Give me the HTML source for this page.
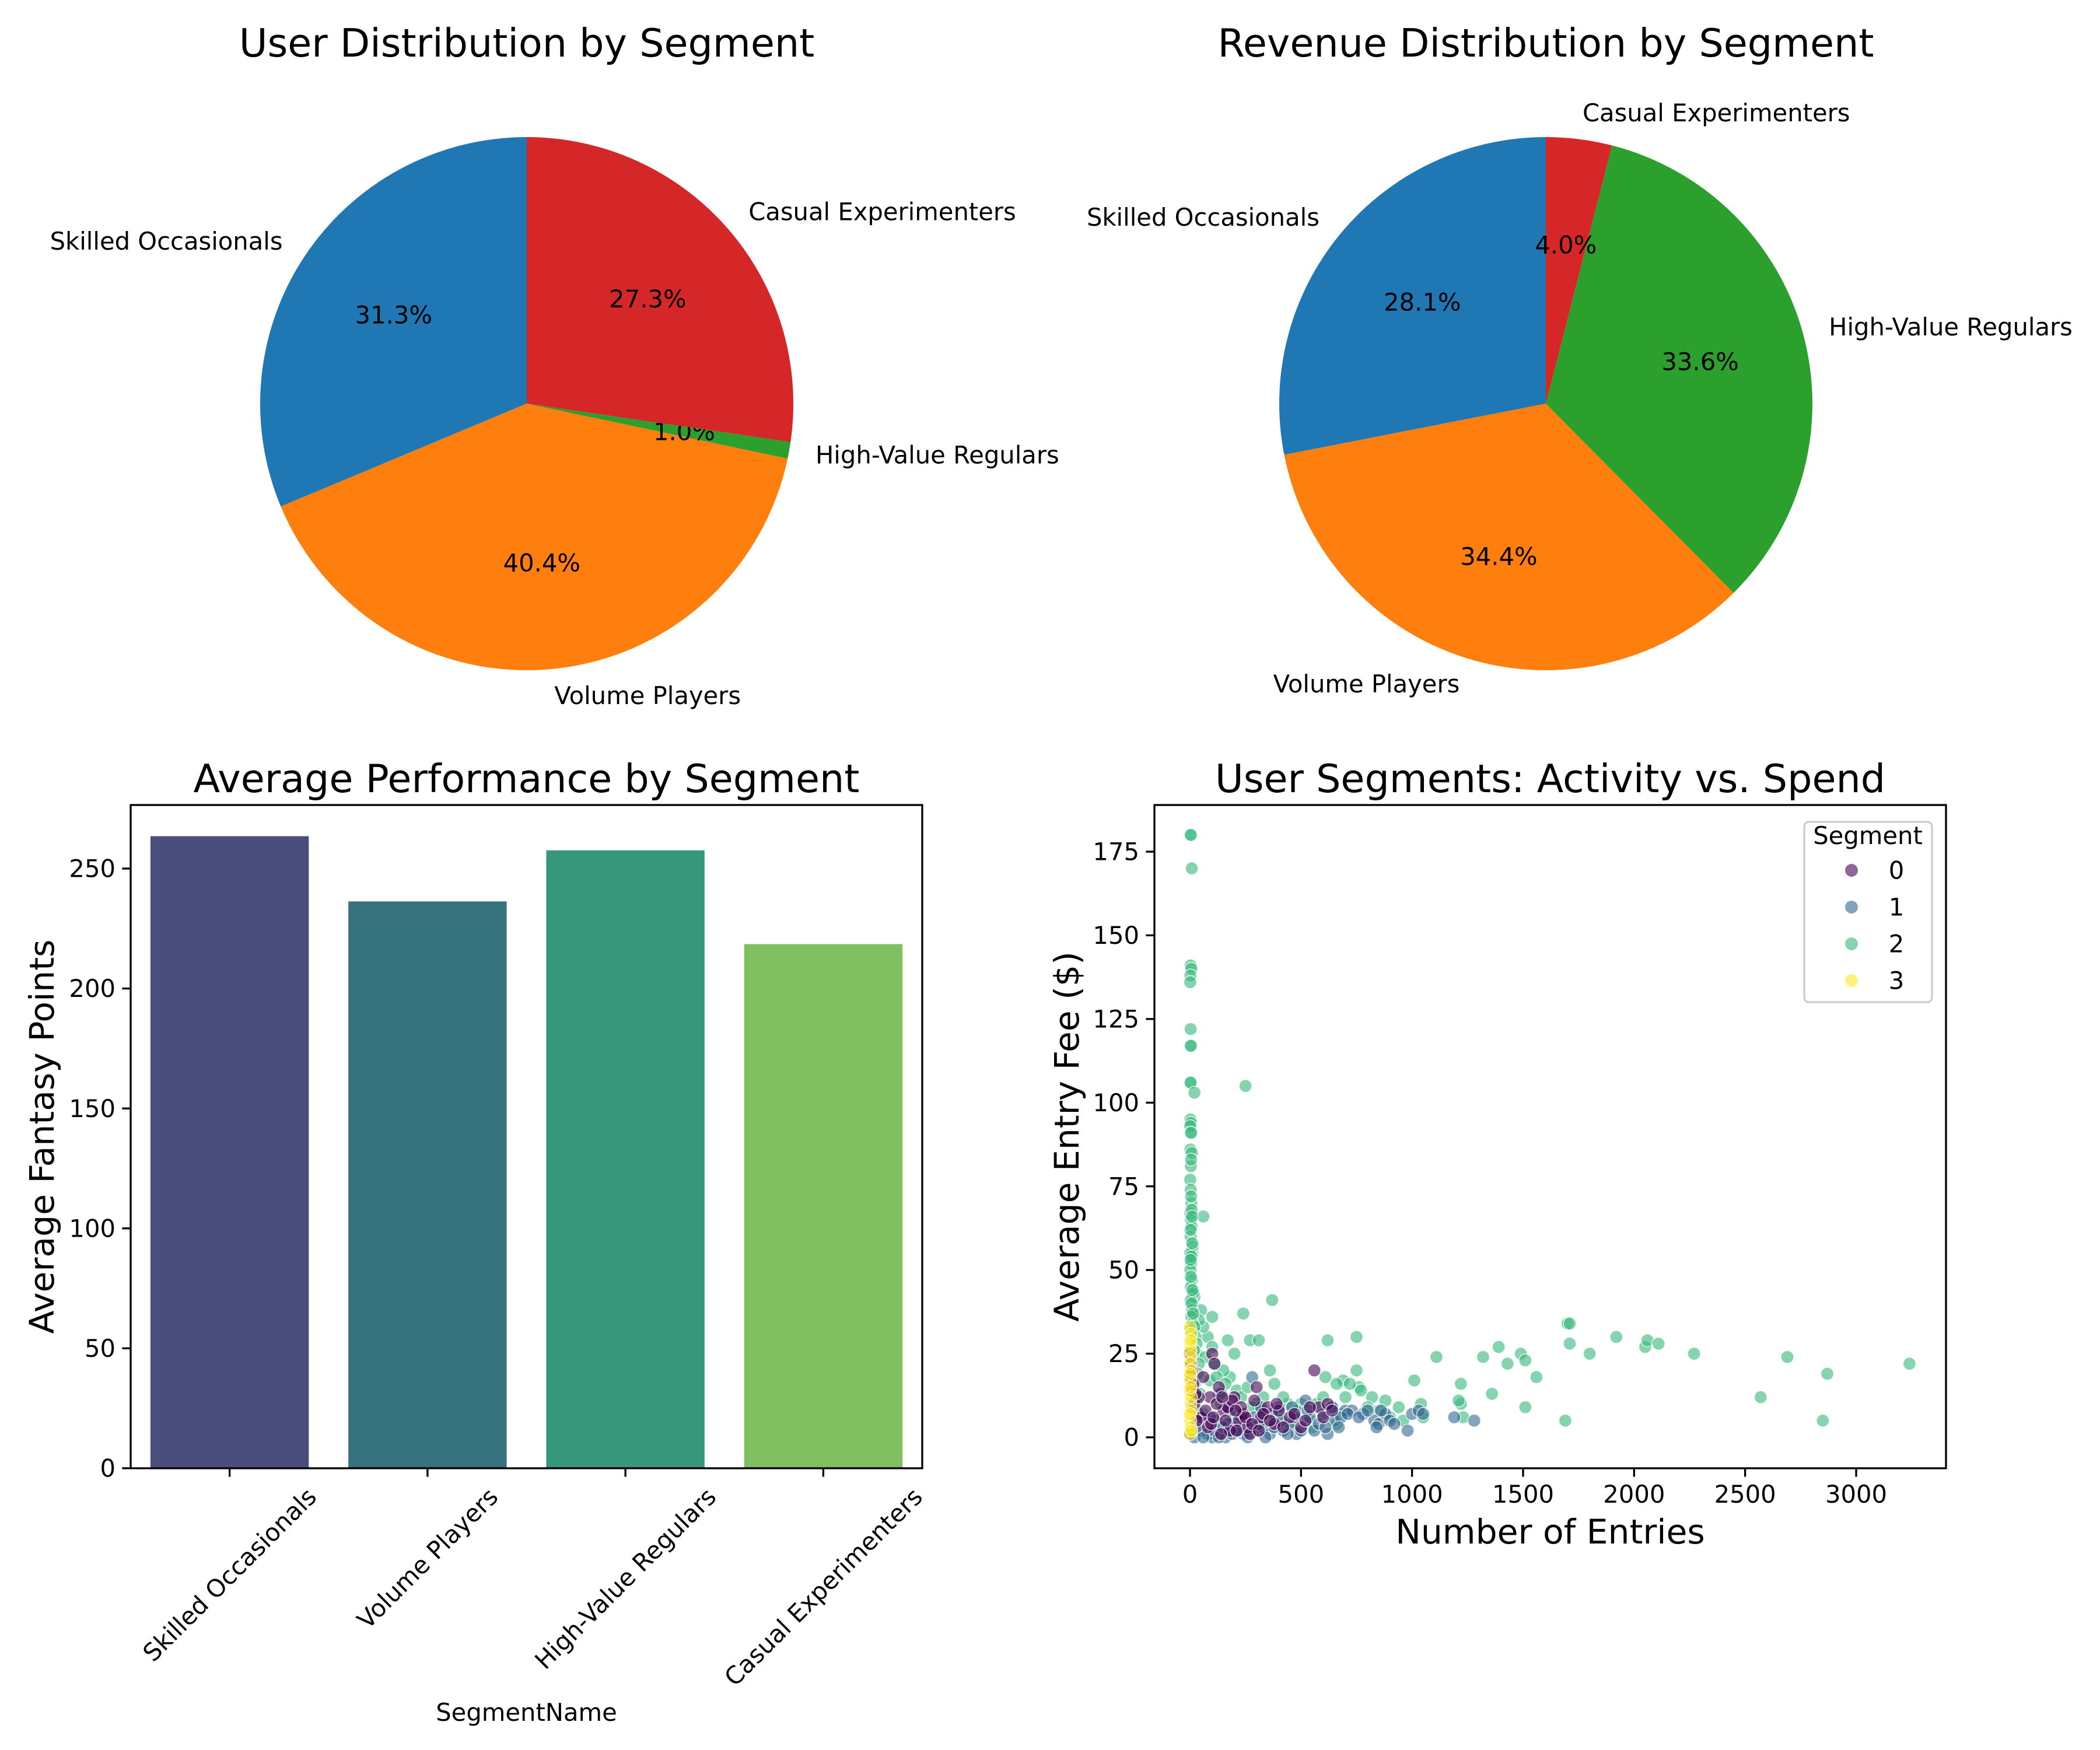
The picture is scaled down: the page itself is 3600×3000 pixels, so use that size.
<!DOCTYPE html>
<html><head><meta charset="utf-8"><style>
html,body{margin:0;padding:0;background:#fff;}
svg{display:block;font-family:"DejaVu Sans","Liberation Sans",sans-serif;}
</style></head><body>
<svg id="fig" width="3600" height="3000" viewBox="0 0 3600 3000" xmlns="http://www.w3.org/2000/svg">
<rect width="3600" height="3000" fill="#fff"/>
<g id="pies"></g><g id="bars"></g><g id="scatter"></g>
</svg>
<script>
const pieLabels = ["Skilled Occasionals","Volume Players","High-Value Regulars","Casual Experimenters"];
const userShare = [31.3, 40.4, 1.0, 27.3];
const revenueShare = [28.1, 34.4, 33.6, 4.0];
const barCategories = ["Skilled Occasionals","Volume Players","High-Value Regulars","Casual Experimenters"];
const barValues = [263.5, 236.3, 257.6, 218.5];
const barTicks = [0, 50, 100, 150, 200, 250];
const scatterXTicks = [0, 500, 1000, 1500, 2000, 2500, 3000];
const scatterYTicks = [0, 25, 50, 75, 100, 125, 150, 175];
const segGreenNearZero = [[2,180],[4,180],[8,170],[3,141],[6,140],[2,138],[1,136],[3,122],[2,117],[4,117],[1,106],[3,106],[20,103],[2,95],[4,94],[1,93],[3,91],[5,91],[2,86],[4,81],[1,77],[3,74],[6,70],[2,67],[4,65],[7,63],[3,60],[12,57],[1,55],[5,52],[2,50],[8,47],[4,45],[15,43],[3,41],[9,38],[6,36],[12,34],[2,32],[5,72],[8,68],[3,62],[10,58],[6,54],[4,48],[11,44],[7,40],[14,37],[20,33],[25,30],[30,28],[18,26],[40,22],[35,19],[22,16],[45,13],[28,11],[15,9],[60,7],[8,85],[5,83],[9,66],[3,53]];
const segGreenOther = [[250,105],[60,66],[370,41],[240,37],[100,36],[170,29],[270,29],[310,29],[620,29],[750,30],[1110,24],[1220,16],[1320,24],[1390,27],[1430,22],[1490,25],[1510,23],[1560,18],[1700,34],[1710,34],[1710,28],[1800,25],[1920,30],[2050,27],[2060,29],[2110,28],[2270,25],[2570,12],[2690,24],[2850,5],[2870,19],[3240,22],[1690,5],[1510,9],[1360,13],[1220,10],[1210,11],[1010,17],[940,9],[880,11],[820,12],[760,15],[750,20],[690,17],[660,16],[610,18],[570,10],[500,10],[440,10],[380,16],[360,20],[330,12],[300,10],[200,25],[180,18],[150,20],[130,13],[110,22],[80,30],[60,33],[50,38],[40,35],[20,42],[10,55],[30,25],[90,17],[1040,10],[1230,6],[660,4],[450,4],[700,12],[120,18],[160,16],[210,14],[230,12],[280,9],[320,8],[400,7],[480,8],[530,6],[600,12],[640,9],[720,16],[770,14],[800,9],[850,8],[900,6],[960,5],[1050,6],[70,24],[100,27],[140,10],[190,6],[260,15],[350,5],[420,12],[550,3],[680,7]];
const segYellow = [[0,33],[5,31],[2,28],[3,24],[0,22],[4,20],[1,17],[0,14],[2,10],[6,8],[1,5],[3,3],[0,1],[5,12],[2,26],[4,29],[1,19],[3,15],[0,7],[6,2]];
const segPurple = [[0,25],[5,22],[3,18],[10,14],[20,10],[50,6],[80,3],[100,25],[110,22],[130,15],[150,8],[180,2],[200,12],[220,5],[240,7],[260,3],[300,15],[320,6],[350,9],[380,4],[400,8],[450,6],[500,3],[560,20],[580,9],[620,10],[140,1],[90,12],[60,18],[30,5],[170,9],[270,1],[15,16],[40,12],[70,8],[95,4],[120,10],[160,5],[190,11],[210,2],[230,9],[250,6],[280,4],[310,2],[330,7],[360,5],[390,10],[420,3],[470,7],[520,5],[540,9],[600,6],[640,8],[105,6],[145,12],[205,8],[290,11],[10,20],[25,13]];
const segBlue = [[0,1],[20,0],[50,2],[80,1],[120,5],[140,13],[160,0],[200,3],[240,1],[280,18],[300,2],[330,3],[360,1],[400,9],[420,2],[450,4],[480,1],[520,11],[540,6],[560,2],[600,7],[620,1],[650,5],[700,8],[730,8],[780,7],[830,5],[850,4],[880,7],[980,2],[1000,7],[1030,8],[1050,7],[1190,6],[1280,5],[250,5],[370,7],[680,6],[900,5],[100,0],[180,8],[10,9],[30,3],[60,0],[90,6],[110,2],[130,0],[170,4],[190,1],[220,2],[260,0],[290,6],[310,4],[340,0],[380,3],[410,5],[440,1],[470,6],[500,2],[530,8],[580,4],[610,3],[640,9],[670,3],[710,7],[760,6],[800,8],[840,3],[860,8],[920,4],[40,7],[150,3],[230,6],[320,9],[460,9]];

const NS="http://www.w3.org/2000/svg";
function mk(parent, tag, attrs, text){
  const e=document.createElementNS(NS,tag);
  for(const k in attrs) e.setAttribute(k,attrs[k]);
  if(text!==undefined) e.textContent=text;
  parent.appendChild(e); return e;
}
const tab=["#1f77b4","#ff7f0e","#2ca02c","#d62728"];
const FS=41.7;

// ---- PIES ----
function drawPie(g, cx, cy, r, vals, title, tx){
  const t=mk(g,'text',{x:tx,y:97,'text-anchor':'middle','font-size':66.7,fill:'#000'},title);
  
  
  const total=vals.reduce((a,b)=>a+b,0);
  let a0=90;
  vals.forEach((v,i)=>{
    const sweep=v/total*360, a1=a0+sweep;
    const r0=a0*Math.PI/180, r1=a1*Math.PI/180;
    const x0=cx+r*Math.cos(r0), y0=cy-r*Math.sin(r0), x1=cx+r*Math.cos(r1), y1=cy-r*Math.sin(r1);
    const p=mk(g,'path',{d:`M${cx},${cy} L${x0},${y0} A${r},${r} 0 ${sweep>180?1:0} 0 ${x1},${y1} Z`,fill:tab[i]});
    
    
    const m=(a0+sweep/2)*Math.PI/180, c=Math.cos(m), s=Math.sin(m);
    const lb=mk(g,'text',{x:cx+1.1*r*c,y:cy-1.1*r*s+FS*0.35,'text-anchor':c>=0?'start':'end','font-size':FS},pieLabels[i]);
    
    
    const pc=mk(g,'text',{x:cx+0.6*r*c,y:cy-0.6*r*s+FS*0.35,'text-anchor':'middle','font-size':FS},v.toFixed(1)+'%');
    
    
    a0=a1;
  });
}
drawPie(document.getElementById('pies'),903,692,457,userShare,"User Distribution by Segment",903);
drawPie(document.getElementById('pies'),2650,692,457,revenueShare,"Revenue Distribution by Segment",2650);

// ---- BARS ----
(function(){
  const g=document.getElementById('bars');
  const L=224,R=1581,T=1380,B=2517, ymax=276.5;
  const ys=v=>B-(v/ymax)*(B-T);
  const n=barCategories.length, step=(R-L)/n;
  const xs=i=>L+step*(i+0.5);
  const cols=["#4a4e7c","#37727f","#36977a","#80c060"];
  barValues.forEach((v,i)=>{
    const b=mk(g,'rect',{x:xs(i)-step*0.4,y:ys(v),width:step*0.8,height:B-ys(v),fill:cols[i]});
    
    
  });
  barTicks.forEach(t=>{
    mk(g,'line',{x1:L-14.6,x2:L,y1:ys(t),y2:ys(t),stroke:'#000','stroke-width':3.3});
    const tl=mk(g,'text',{x:L-26,y:ys(t)+FS*0.35,'text-anchor':'end','font-size':FS},String(t));
    
    
  });
  barCategories.forEach((c,i)=>{
    mk(g,'line',{x1:xs(i),x2:xs(i),y1:B,y2:B+14.6,stroke:'#000','stroke-width':3.3});
    const tl=mk(g,'text',{'text-anchor':'middle','font-size':FS},c);
    
    
    const w=tl.getComputedTextLength();
    const cxp=xs(i), cyp=B+14.6+12+(w*0.707+FS*0.707)/2;
    tl.setAttribute('x',cxp); tl.setAttribute('y',cyp+FS*0.35);
    tl.setAttribute('transform',`rotate(-45 ${cxp} ${cyp})`);
  });
  const fr=mk(g,'rect',{x:L,y:T,width:R-L,height:B-T,fill:'none',stroke:'#000','stroke-width':3.3});
  
  
  const t=mk(g,'text',{x:(L+R)/2,y:1358,'text-anchor':'middle','font-size':66.7},"Average Performance by Segment");
  
  
  const yl=mk(g,'text',{x:0,y:0,'text-anchor':'middle','font-size':58.3,transform:`translate(92 ${(T+B)/2}) rotate(-90)`},"Average Fantasy Points");
  
  
  const xl=mk(g,'text',{x:(L+R)/2,y:2950,'text-anchor':'middle','font-size':FS},"SegmentName");
  
  
})();

// ---- SCATTER ----
(function(){
  const g=document.getElementById('scatter');
  const L=1979,R=3336,T=1380,B=2517;
  const x0px=2040, xpx=(3182-2040)/3000, y0px=2464, ypx=(2464-1460)/175;
  const xs=v=>x0px+v*xpx;
  const ys=v=>y0px-v*ypx;
  const segCol=["#440154","#31688e","#35b779","#fde725"];
  const groups=[[segGreenOther,2],[segGreenNearZero,2],[segBlue,1],[segPurple,0],[segYellow,3]];
  groups.forEach(([arr,s])=>{
    arr.forEach(p=>{
      const c=mk(g,'circle',{cx:xs(p[0]),cy:ys(p[1]),r:11,fill:segCol[s],'fill-opacity':0.6,stroke:'#fff','stroke-width':1.5,'stroke-opacity':0.8});
      
      
    });
  });
  scatterXTicks.forEach(t=>{
    mk(g,'line',{x1:xs(t),x2:xs(t),y1:B,y2:B+14.6,stroke:'#000','stroke-width':3.3});
    const tl=mk(g,'text',{x:xs(t),y:B+14.6+12+FS*0.78,'text-anchor':'middle','font-size':FS},String(t));
    
    
  });
  scatterYTicks.forEach(t=>{
    mk(g,'line',{x1:L-14.6,x2:L,y1:ys(t),y2:ys(t),stroke:'#000','stroke-width':3.3});
    const tl=mk(g,'text',{x:L-26,y:ys(t)+FS*0.35,'text-anchor':'end','font-size':FS},String(t));
    
    
  });
  const fr=mk(g,'rect',{x:L,y:T,width:R-L,height:B-T,fill:'none',stroke:'#000','stroke-width':3.3});
  
  
  const t=mk(g,'text',{x:(L+R)/2,y:1358,'text-anchor':'middle','font-size':66.7},"User Segments: Activity vs. Spend");
  
  
  const yl=mk(g,'text',{x:0,y:0,'text-anchor':'middle','font-size':58.3,transform:`translate(1849 ${(T+B)/2}) rotate(-90)`},"Average Entry Fee ($)");
  
  
  const xl=mk(g,'text',{x:(L+R)/2,y:2646,'text-anchor':'middle','font-size':58.3},"Number of Entries");
  
  
  // legend
  const lg=mk(g,'g',{});
  
  
  mk(lg,'rect',{x:3093,y:1409,width:219,height:309,rx:8,fill:'#fff','fill-opacity':0.8,stroke:'#ccc','stroke-width':3.3});
  mk(lg,'text',{x:3202,y:1447,'text-anchor':'middle','font-size':FS},"Segment");
  [0,1,2,3].forEach(s=>{
    const yy=1492+s*63;
    const m=mk(lg,'circle',{cx:3174,cy:yy,r:11,fill:segCol[s],'fill-opacity':0.6});
    
    
    const tx=mk(lg,'text',{x:3251,y:yy+FS*0.35,'text-anchor':'middle','font-size':FS},String(s));
    
    
  });
})();
</script>
</body></html>
